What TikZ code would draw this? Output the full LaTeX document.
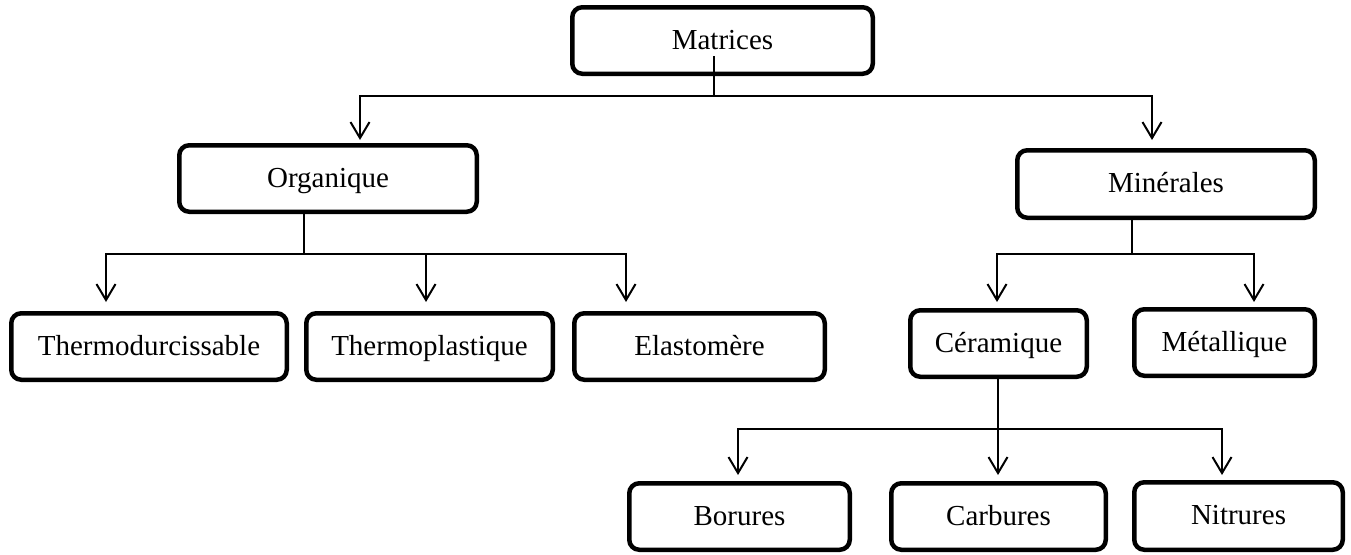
\documentclass[tikz,border=0pt]{standalone}
\usepackage{fontspec}
\setmainfont{Liberation Serif}
\usetikzlibrary{arrows.meta}
\begin{document}
\begin{tikzpicture}[x=1pt,y=-1pt,
  box/.style={draw, line width=4.5pt, rounded corners=10pt, inner sep=0pt,
    text height=21pt, text depth=4pt,
    font=\fontsize{29}{34}\selectfont, anchor=center},
  conn/.style={line width=2pt},
  arr/.style={line width=2pt, -{Straight Barb[length=16pt,width=19pt]}}]
\useasboundingbox (0,0) rectangle (1351,554);
% boxes
\node[box, minimum width=300.5pt, minimum height=66.5pt] (mat) at (722.5,40.5) {Matrices};
\node[box, minimum width=297.5pt, minimum height=66.5pt] (org) at (328,178.5) {Organique};
\node[box, minimum width=297.5pt, minimum height=67.5pt] (min) at (1166,184) {Minérales};
\node[box, minimum width=275.5pt, minimum height=66.5pt] (thd) at (149,346.5) {Thermodurcissable};
\node[box, minimum width=246.5pt, minimum height=66.5pt] (thp) at (429.5,346.5) {Thermoplastique};
\node[box, minimum width=250.5pt, minimum height=66.5pt] (ela) at (699.5,346.5) {Elastomère};
\node[box, minimum width=176.5pt, minimum height=66.5pt] (cer) at (998.5,343.5) {Céramique};
\node[box, minimum width=180.5pt, minimum height=66.5pt] (met) at (1224.5,342.5) {Métallique};
\node[box, minimum width=220.5pt, minimum height=66.5pt] (bor) at (739.5,516.5) {Borures};
\node[box, minimum width=214.5pt, minimum height=66.5pt] (car) at (998.5,516.5) {Carbures};
\node[box, minimum width=208.5pt, minimum height=67.5pt] (nit) at (1238.5,516) {Nitrures};
% connector points
\coordinate (mstem) at (714,56);
\coordinate (mbus) at (714,96);
\coordinate (orgin) at (360,140);
\coordinate (minin) at (1152,140);
\coordinate (ostem) at (304,214);
\coordinate (obus) at (304,254);
\coordinate (thdin) at (106,302);
\coordinate (thpin) at (426,302);
\coordinate (elain) at (626,302);
\coordinate (nstem) at (1132,220);
\coordinate (nbus) at (1132,254);
\coordinate (cerin) at (997,302);
\coordinate (metin) at (1254,302);
\coordinate (cstem) at (998,379);
\coordinate (cbus) at (998,429);
\coordinate (borin) at (738,475);
\coordinate (carin) at (998,475);
\coordinate (nitin) at (1222,475);
% connectors
\draw[conn] (mstem) -- (mbus);
\draw[arr] (mbus) -| (orgin);
\draw[arr] (mbus) -| (minin);
\draw[conn] (ostem) -- (obus);
\draw[arr] (obus) -| (thdin);
\draw[arr] (obus) -| (thpin);
\draw[arr] (obus) -| (elain);
\draw[conn] (nstem) -- (nbus);
\draw[arr] (nbus) -| (cerin);
\draw[arr] (nbus) -| (metin);
\draw[arr] (cstem) -- (carin);
\draw[arr] (cbus) -| (borin);
\draw[arr] (cbus) -| (nitin);
\end{tikzpicture}
\end{document}
